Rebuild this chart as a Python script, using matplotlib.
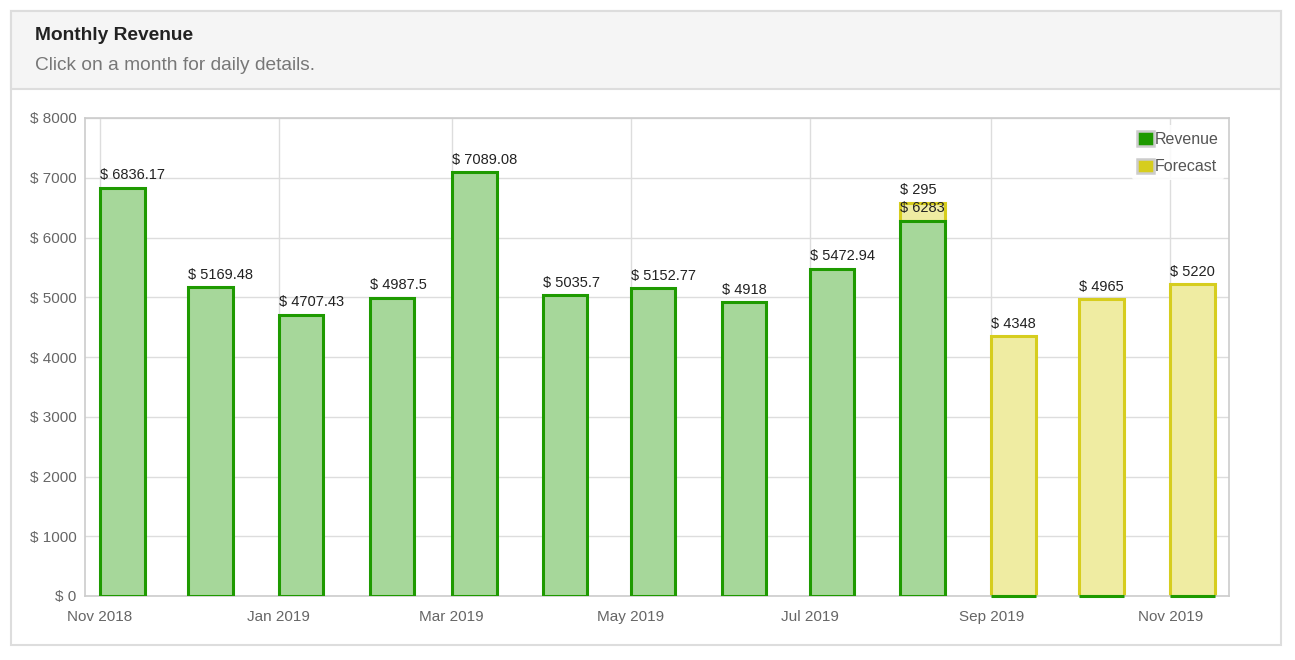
import matplotlib
matplotlib.use("Agg")
import matplotlib.pyplot as plt
import matplotlib.dates as mdates
from matplotlib.patches import Rectangle, Patch
import datetime as dt

plt.rcParams['font.family'] = ['Liberation Sans', 'DejaVu Sans']

months = ["2018-11", "2018-12", "2019-01", "2019-02", "2019-03", "2019-04", "2019-05",
          "2019-06", "2019-07", "2019-08", "2019-09", "2019-10", "2019-11"]
revenue = [6836.17, 5169.48, 4707.43, 4987.5, 7089.08, 5035.7, 5152.77,
           4918, 5472.94, 6283, 0, 0, 0]
forecast = [0, 0, 0, 0, 0, 0, 0, 0, 0, 295, 4348, 4965, 5220]
yticks = [0, 1000, 2000, 3000, 4000, 5000, 6000, 7000, 8000]
xtick_months = ["2018-11", "2019-01", "2019-03", "2019-05", "2019-07", "2019-09", "2019-11"]

def to_date(s):
    y, m = s.split("-")
    return dt.datetime(int(y), int(m), 1)

def fmt(v):
    return "$ " + (("%.2f" % v).rstrip("0").rstrip("."))

W, H = 1295, 660
fig = plt.figure(figsize=(W / 100, H / 100), dpi=100)
fig.patch.set_facecolor("white")

def fx(px):
    return px / W

def fy(py):
    return 1 - py / H

# panel
fig.patches.append(Rectangle((fx(11), fy(645)), fx(1281) - fx(11), fy(11) - fy(645),
                             transform=fig.transFigure, facecolor="white",
                             edgecolor="#dddddd", linewidth=1.5, zorder=-2))
fig.patches.append(Rectangle((fx(11), fy(89)), fx(1281) - fx(11), fy(11) - fy(89),
                             transform=fig.transFigure, facecolor="#f5f5f5",
                             edgecolor="#dddddd", linewidth=1.5, zorder=-1))
fig.text(fx(35), fy(35), "Monthly Revenue", fontsize=13.8, fontweight="bold",
         color="#222222", va="center", ha="left")
fig.text(fx(35), fy(66), "Click on a month for daily details.", fontsize=13.8,
         color="#777777", va="center", ha="left")

ax = fig.add_axes([fx(85), fy(596), fx(1229) - fx(85), fy(118) - fy(596)])
ax.set_zorder(2)
ax.set_facecolor("white")
dates = [to_date(m) for m in months]
xnum = mdates.date2num(dates)
bw = 15.3

green_edge = "#1e9a00"
green_fill = "#a6d79a"
yel_edge = "#d6cd1e"
yel_fill = "#efeca2"

# forecast bars
for x, r, f in zip(xnum, revenue, forecast):
    if f > 0:
        ax.bar(x, f, bottom=r, width=bw, align="edge", facecolor=yel_fill,
               edgecolor=yel_edge, linewidth=2.2, zorder=3)
# revenue bars
bars = ax.bar(xnum, revenue, width=bw, align="edge", facecolor=green_fill,
              edgecolor=green_edge, linewidth=2.2, zorder=4)
for b, r in zip(bars, revenue):
    if r == 0:
        b.set_clip_on(False)

# labels
for x, r, f in zip(xnum, revenue, forecast):
    if r > 0:
        ax.annotate(fmt(r), (x, r), xytext=(0, 4), textcoords="offset points",
                    ha="left", va="bottom", fontsize=10.5, color="#222222", zorder=6)
    if f > 0:
        ax.annotate(fmt(f), (x, r + f), xytext=(0, 4), textcoords="offset points",
                    ha="left", va="bottom", fontsize=10.5, color="#222222", zorder=6)

ax.set_ylim(0, 8000)
ax.set_yticks(yticks)
ax.set_yticklabels(["$ %d" % v for v in yticks])
xt = mdates.date2num([to_date(m) for m in xtick_months])
ax.set_xticks(xt)
ax.set_xticklabels([to_date(m).strftime("%b %Y") for m in xtick_months])
ax.set_xlim(mdates.date2num(dt.datetime(2018, 10, 27)), mdates.date2num(dt.datetime(2019, 11, 21)))

ax.grid(True, color="#dddddd", linewidth=1, zorder=0)
ax.set_axisbelow(True)
for s in ax.spines.values():
    s.set_color("#cccccc")
    s.set_linewidth(1.2)
    s.set_zorder(3.5)
ax.tick_params(axis="both", length=0, labelsize=11, colors="#666666")
ax.tick_params(axis="y", pad=6)
ax.tick_params(axis="x", pad=10)

handles = [Patch(facecolor=green_edge, edgecolor="#cccccc", linewidth=1.8, label="Revenue"),
           Patch(facecolor=yel_edge, edgecolor="#cccccc", linewidth=1.8, label="Forecast")]
leg = ax.legend(handles=handles, loc="upper right", bbox_to_anchor=(1.0, 0.995),
                fontsize=11.5, frameon=True, handlelength=1.05, handleheight=1.05,
                handletextpad=0.05, labelspacing=0.75, borderpad=0.35, borderaxespad=0.3)
leg.get_frame().set_edgecolor("none")
leg.get_frame().set_facecolor("white")
leg.get_frame().set_alpha(0.85)
for t in leg.get_texts():
    t.set_color("#555555")

fig.savefig("out.png", dpi=100)
